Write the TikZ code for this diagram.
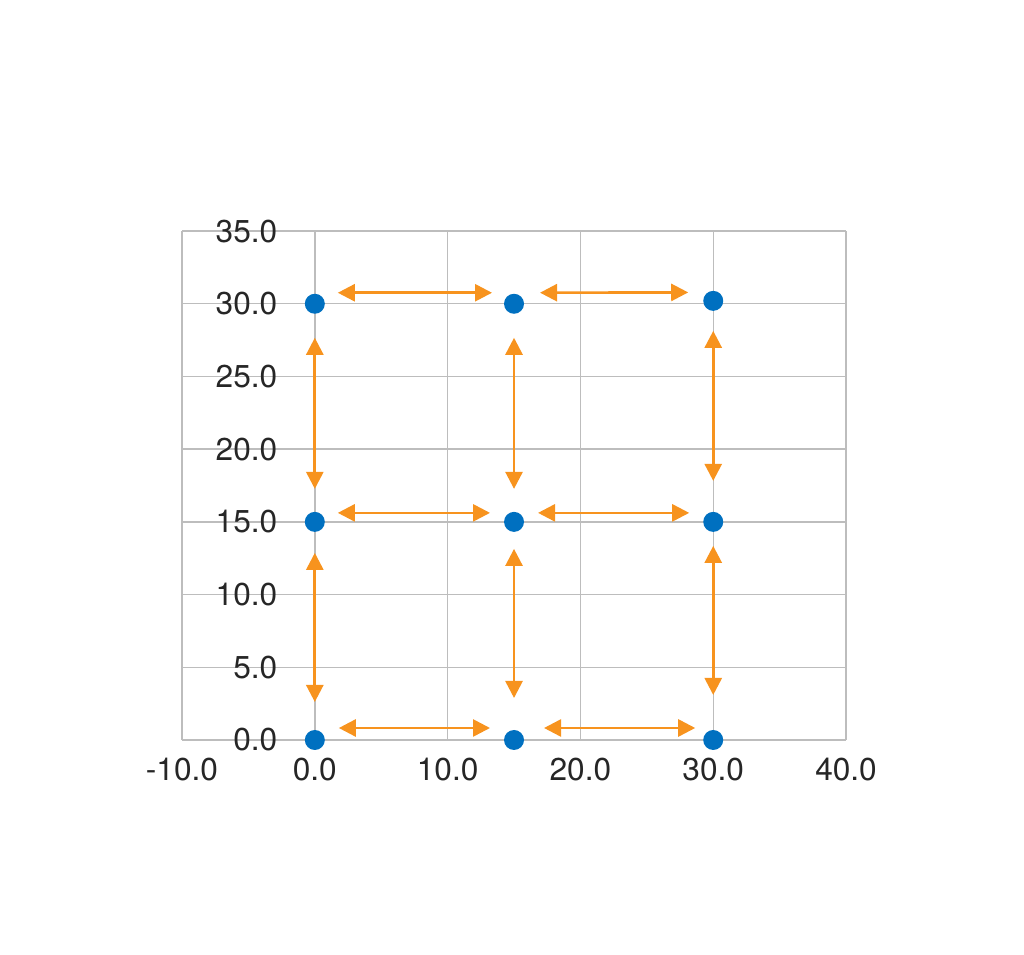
\documentclass[tikz,border=0pt]{standalone}
\usepackage{fontspec}
\setmainfont{TeX Gyre Heros}
\usetikzlibrary{arrows.meta}
\definecolor{dotblue}{HTML}{0070C0}
\definecolor{arrorange}{HTML}{F7931E}
\definecolor{gridgray}{HTML}{BDBDBD}
\tikzset{
  dot/.style={circle, fill=dotblue, inner sep=0pt, minimum size=0.4cm},
  arr/.style={arrorange, line width=1.5pt, {Triangle[length=0.34cm,width=0.34cm]}-{Triangle[length=0.34cm,width=0.34cm]}},
  lbl/.style={font=\fontsize{18}{20}\selectfont, text=black!85, inner sep=0pt},
}

\begin{document}
\begin{tikzpicture}[x=0.2656cm, y=0.2908cm]
  \useasboundingbox (-23.705,-14.72) rectangle (53.40,50.89);
  \draw[gridgray, line width=0.8pt, xstep=10, ystep=5] (-10,0) grid (40,35);
  \foreach \v in {0,5,...,35}
    \node[lbl, anchor=east] (ylab\v) at (-2.8,\v) {\v.0};
  \foreach \v in {-10,0,...,40}
    \node[lbl] (xlab\v) at (\v,-2) {\v.0};

  \node[dot] (n00) at (0,0) {};
  \node[dot] (n10) at (15,0) {};
  \node[dot] (n20) at (30,0) {};
  \node[dot] (n01) at (0,15) {};
  \node[dot] (n11) at (15,15) {};
  \node[dot] (n21) at (30,15) {};
  \node[dot] (n02) at (0,30) {};
  \node[dot] (n12) at (15,30) {};
  \node[dot] (n22) at (30,30.2) {};

  % horizontal links
  \draw[arr, shorten <=0.46cm, shorten >=0.44cm] ([yshift=0.22cm]n02.center) -- ([yshift=0.22cm]n12.center);
  \draw[arr, shorten <=0.52cm, shorten >=0.50cm] ([yshift=0.22cm]n12.center) -- ([yshift=0.17cm]n22.center);
  \draw[arr, shorten <=0.46cm, shorten >=0.48cm] ([yshift=0.18cm]n01.center) -- ([yshift=0.18cm]n11.center);
  \draw[arr, shorten <=0.48cm, shorten >=0.48cm] ([yshift=0.18cm]n11.center) -- ([yshift=0.18cm]n21.center);
  \draw[arr, shorten <=0.48cm, shorten >=0.48cm] ([yshift=0.24cm]n00.center) -- ([yshift=0.24cm]n10.center);
  \draw[arr, shorten <=0.60cm, shorten >=0.36cm] ([yshift=0.24cm]n10.center) -- ([yshift=0.24cm]n20.center);

  % vertical links
  \draw[arr, shorten <=0.68cm, shorten >=0.66cm] (n02.center) -- (n01.center);
  \draw[arr, shorten <=0.62cm, shorten >=0.76cm] (n01.center) -- (n00.center);
  \draw[arr, shorten <=0.68cm, shorten >=0.66cm] (n12.center) -- (n11.center);
  \draw[arr, shorten <=0.54cm, shorten >=0.84cm] (n11.center) -- (n10.center);
  \draw[arr, shorten <=0.60cm, shorten >=0.82cm] (n22.center) -- (n21.center);
  \draw[arr, shorten <=0.48cm, shorten >=0.90cm] (n21.center) -- (n20.center);
\end{tikzpicture}
\end{document}
